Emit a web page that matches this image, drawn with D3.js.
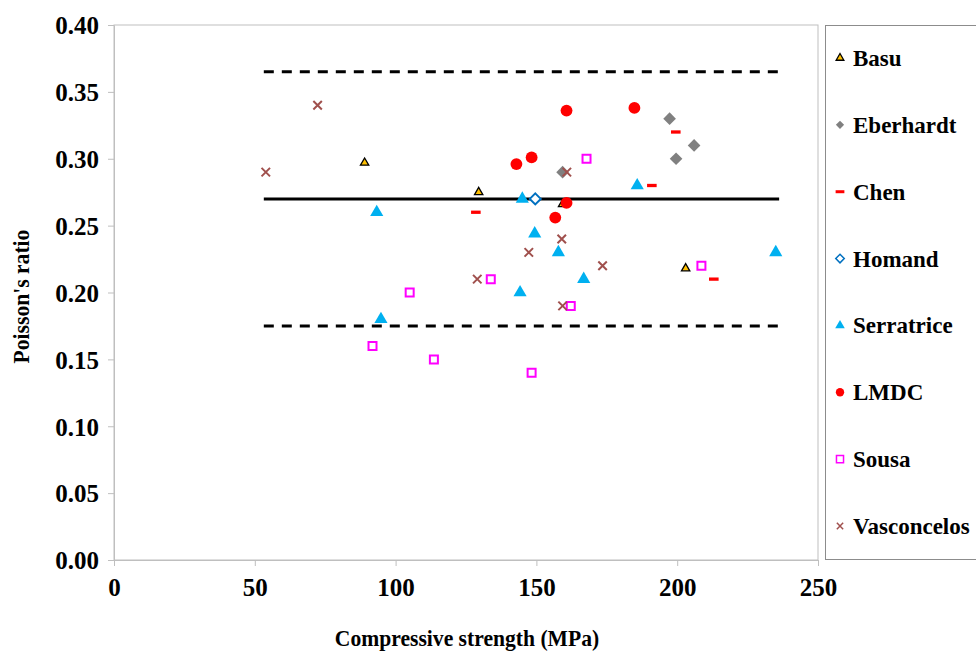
<!DOCTYPE html>
<html>
<head>
<meta charset="utf-8">
<script src="https://cdn.jsdelivr.net/npm/d3@7"></script>
<style>
  body { margin: 0; background: #fff; }
  text { font-family: "Liberation Serif", "Times New Roman", serif; font-weight: bold; }
</style>
</head>
<body>
<div id="chart"></div>
<script>
// data: [compressive strength MPa, Poisson's ratio]
const basu = [[89, 0.297], [129.5, 0.275], [159.3, 0.266], [203, 0.218]];
const eberhardt = [[197.3, 0.330], [206, 0.310], [199.6, 0.300], [159.3, 0.290]];
const chen = [[128.5, 0.260], [199.5, 0.320], [191, 0.280], [213, 0.210]];
const homand = [[149.6, 0.270]];
const serratrice = [[93.3, 0.260], [145, 0.270], [149.4, 0.244], [157.8, 0.230], [94.8, 0.180],
  [144.2, 0.200], [166.8, 0.210], [185.8, 0.280], [235, 0.230]];
const lmdc = [[160.7, 0.336], [184.8, 0.338], [142.9, 0.296], [148.3, 0.301], [160.7, 0.267], [156.7, 0.256]];
const sousa = [[167.8, 0.300], [208.6, 0.220], [162.2, 0.190], [133.8, 0.210], [105, 0.200],
  [91.8, 0.160], [113.6, 0.150], [148.3, 0.140]];
const vasconcelos = [[53.9, 0.290], [72.3, 0.340], [160.8, 0.290], [159, 0.240], [147.3, 0.230],
  [129, 0.210], [173.5, 0.220], [159.3, 0.190]];

const meanLine = [[53.2, 0.270], [236.2, 0.270]];
const upperLine = [[53.2, 0.365], [236.2, 0.365]];
const lowerLine = [[53.2, 0.175], [236.2, 0.175]];

const xTicks = [0, 50, 100, 150, 200, 250];
const yTicks = [0, 0.05, 0.10, 0.15, 0.20, 0.25, 0.30, 0.35, 0.40];

const W = 976, H = 651;
const plotLeft = 114, plotRight = 818, plotTop = 25, plotBottom = 560;

const svg = d3.select("#chart").append("svg")
  .attr("width", W).attr("height", H);

const x = d3.scaleLinear().domain([0, 250]).range([plotLeft, plotRight]);
const y = d3.scaleLinear().domain([0, 0.4]).range([plotBottom, plotTop]);

// plot area frame
svg.append("rect")
  .attr("x", plotLeft).attr("y", plotTop)
  .attr("width", plotRight - plotLeft).attr("height", plotBottom - plotTop)
  .attr("fill", "none").attr("stroke", "#bfbfbf").attr("stroke-width", 1);

// axes
const xAxis = svg.append("g")
  .attr("transform", "translate(0," + plotBottom + ")")
  .call(d3.axisBottom(x).tickValues(xTicks).tickSize(6).tickSizeOuter(0).tickPadding(10).tickFormat(d3.format("d")));
const yAxis = svg.append("g")
  .attr("transform", "translate(" + plotLeft + ",0)")
  .call(d3.axisLeft(y).tickValues(yTicks).tickSize(6).tickSizeOuter(0).tickPadding(9).tickFormat(d3.format(".2f")));

[xAxis, yAxis].forEach(g => {
  g.select(".domain").attr("stroke", "#bfbfbf");
  g.selectAll(".tick line").attr("stroke", "#bfbfbf");
  g.selectAll(".tick text")
    .attr("fill", "#000")
    .style("font-family", "'Liberation Serif', serif")
    .style("font-weight", "bold")
    .style("font-size", "25px");
});
xAxis.selectAll(".tick text").attr("dy", "0.8em");
yAxis.selectAll(".tick text").attr("dy", "0.35em");

// axis titles (slightly condensed, like the original)
svg.append("text")
  .attr("transform", "translate(" + ((plotLeft + plotRight) / 2 + 1) + ",646) scale(0.9,1)")
  .attr("text-anchor", "middle")
  .style("font-size", "24px")
  .text("Compressive strength (MPa)");

svg.append("text")
  .attr("transform", "translate(29," + ((plotTop + plotBottom) / 2 + 4) + ") rotate(-90) scale(0.9,1)")
  .attr("text-anchor", "middle")
  .style("font-size", "24px")
  .text("Poisson's ratio");

// reference lines
const line = d3.line().x(d => x(d[0])).y(d => y(d[1]));
svg.append("path").datum(meanLine).attr("d", line)
  .attr("fill", "none").attr("stroke", "#000").attr("stroke-width", 3);
[upperLine, lowerLine].forEach(l => {
  svg.append("path").datum(l).attr("d", line)
    .attr("fill", "none").attr("stroke", "#000").attr("stroke-width", 3)
    .attr("stroke-dasharray", "10,8");
});

// custom symbol shapes
const dash = {
  draw(ctx, size) {
    const w = Math.sqrt(size) * 1.6, h = Math.sqrt(size) * 0.55;
    ctx.rect(-w / 2, -h / 2, w, h);
  }
};
const cross = {
  draw(ctx, size) {
    const r = Math.sqrt(size) / 2;
    ctx.moveTo(-r, -r); ctx.lineTo(r, r);
    ctx.moveTo(r, -r); ctx.lineTo(-r, r);
  }
};
const diamond = {
  draw(ctx, size) {
    const r = Math.sqrt(size / 2);
    ctx.moveTo(0, -r); ctx.lineTo(r, 0); ctx.lineTo(0, r); ctx.lineTo(-r, 0);
    ctx.closePath();
  }
};

const series = [
  { name: "Basu", data: basu, type: d3.symbolTriangle, size: 30, legendSize: 26, fill: "#ffc000", stroke: "#000", sw: 1.3 },
  { name: "Eberhardt", data: eberhardt, type: diamond, size: 80, legendSize: 34, fill: "#808080", stroke: "none", sw: 0 },
  { name: "Chen", data: chen, type: dash, size: 36, legendSize: 30, fill: "#ff0000", stroke: "none", sw: 0 },
  { name: "Homand", data: homand, type: diamond, size: 60, legendSize: 36, fill: "#fff", stroke: "#0070c0", sw: 2 },
  { name: "Serratrice", data: serratrice, type: d3.symbolTriangle, size: 75, legendSize: 40, fill: "#00b0f0", stroke: "none", sw: 0 },
  { name: "LMDC", data: lmdc, type: d3.symbolCircle, size: 110, legendSize: 55, fill: "#ff0000", stroke: "none", sw: 0 },
  { name: "Sousa", data: sousa, type: d3.symbolSquare, size: 64, legendSize: 50, fill: "#fff", stroke: "#ff00ff", sw: 2 },
  { name: "Vasconcelos", data: vasconcelos, type: cross, size: 72, legendSize: 40, fill: "none", stroke: "#a0504d", sw: 2 }
];

series.forEach(s => {
  svg.append("g").selectAll("path")
    .data(s.data)
    .enter()
    .append("path")
    .attr("transform", d => "translate(" + x(d[0]) + "," + y(d[1]) + ")")
    .attr("d", d3.symbol().type(s.type).size(s.size))
    .attr("fill", s.fill)
    .attr("stroke", s.stroke)
    .attr("stroke-width", s.sw);
});

// legend
svg.append("rect")
  .attr("x", 825.5).attr("y", 25.5)
  .attr("width", 160).attr("height", 534)
  .attr("fill", "#fff").attr("stroke", "#8c8c8c").attr("stroke-width", 1);

const ly = d3.scalePoint().domain(series.map(s => s.name)).range([58, 526]);
const leg = svg.append("g").selectAll("g")
  .data(series)
  .enter()
  .append("g")
  .attr("transform", s => "translate(840," + ly(s.name) + ")");
leg.append("path")
  .attr("d", s => d3.symbol().type(s.type).size(s.legendSize)())
  .attr("fill", s => s.fill)
  .attr("stroke", s => s.stroke)
  .attr("stroke-width", s => Math.min(s.sw, 1.5));
leg.append("text")
  .attr("x", 13).attr("dy", "0.35em")
  .style("font-size", "23px")
  .text(s => s.name);
</script>
</body>
</html>
